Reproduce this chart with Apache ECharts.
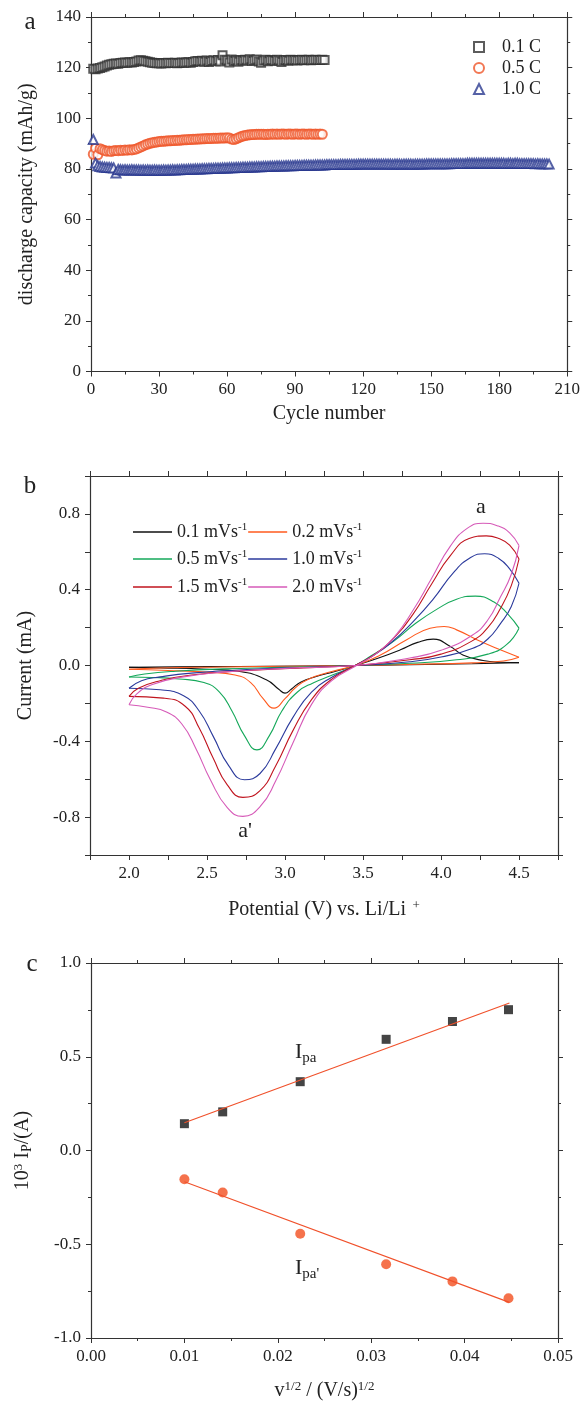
<!DOCTYPE html>
<html>
<head>
<meta charset="utf-8">
<script src="https://cdn.jsdelivr.net/npm/echarts@6/dist/echarts.min.js"></script>
<style>
  html, body { margin: 0; padding: 0; background: #fff; }
  #main { width: 583px; height: 1402px; }
</style>
</head>
<body>
<div id="main"></div>
<script>
// ---- panel a: discharge capacity per cycle (mAh/g), index 0 = cycle 1
const capacity01C = [
  119.6,119.4,119.7,119.9,120.2,120.5,120.8,121.1,121.3,121.5,
  121.6,121.5,121.8,121.9,122.0,121.9,122.1,122.0,122.2,122.4,
  122.8,122.9,122.7,122.5,122.3,122.1,121.9,121.8,121.7,121.7,
  121.6,121.8,121.7,121.9,121.8,121.8,121.9,121.7,121.8,122.0,
  121.9,122.0,122.1,121.9,122.2,122.5,122.6,122.4,122.7,122.3,
  122.8,122.2,122.6,122.9,122.5,123.0,122.4,124.9,123.1,122.8,
  122.0,123.2,122.6,122.9,122.3,123.0,122.7,123.1,122.8,123.3,
  122.6,122.9,123.2,122.4,121.9,122.8,123.1,122.5,123.0,122.9,
  122.6,123.1,122.8,122.2,122.9,123.0,122.7,123.1,122.9,123.0,
  122.8,123.0,123.1,122.9,123.0,123.1,122.9,123.0,123.1,123.0,
  123.0,123.1,123.0
];
const capacity05C = [
  85.8,88.2,85.6,88.0,87.6,87.3,87.0,87.1,86.9,87.2,
  87.3,87.2,87.4,87.3,87.5,87.4,87.6,87.5,87.7,87.9,
  88.3,88.7,89.1,89.5,89.8,90.1,90.3,90.5,90.6,90.8,
  90.9,90.9,91.0,91.1,91.1,91.2,91.2,91.3,91.3,91.4,
  91.5,91.5,91.6,91.6,91.7,91.7,91.8,91.8,91.9,91.9,
  92.0,92.0,92.0,92.1,92.1,92.1,92.2,92.2,92.2,92.3,
  92.2,91.8,91.6,91.9,92.3,92.7,93.0,93.2,93.4,93.5,
  93.6,93.6,93.7,93.7,93.7,93.7,93.6,93.7,93.7,93.8,
  93.7,93.8,93.7,93.8,93.8,93.7,93.8,93.8,93.7,93.8,
  93.8,93.7,93.8,93.8,93.7,93.8,93.8,93.7,93.8,93.7,
  93.8,93.7
];
const capacity10C = [
  91.6,82.3,81.3,81.0,80.8,80.7,80.6,80.6,80.5,80.4,
  78.4,79.8,79.7,79.6,79.7,79.6,79.6,79.7,79.6,79.6,
  79.6,79.5,79.6,79.5,79.6,79.5,79.5,79.6,79.5,79.5,
  79.5,79.6,79.5,79.6,79.6,79.7,79.6,79.7,79.7,79.8,
  79.8,79.8,79.9,79.9,79.9,80.0,80.0,80.0,80.1,80.1,
  80.1,80.2,80.2,80.2,80.3,80.3,80.3,80.4,80.4,80.4,
  80.5,80.5,80.5,80.6,80.6,80.6,80.7,80.7,80.7,80.8,
  80.8,80.8,80.9,80.9,80.9,81.0,81.0,81.0,81.1,81.1,
  81.1,81.2,81.2,81.2,81.2,81.3,81.3,81.3,81.3,81.4,
  81.4,81.4,81.4,81.5,81.5,81.5,81.5,81.5,81.6,81.6,
  81.6,81.6,81.6,81.7,81.7,81.7,81.7,81.7,81.7,81.8,
  81.8,81.8,81.8,81.8,81.8,81.8,81.8,81.9,81.9,81.9,
  81.9,81.9,81.9,81.9,81.9,81.9,81.9,81.9,81.9,81.9,
  81.9,81.9,81.8,81.9,81.9,81.9,81.8,81.9,81.9,81.9,
  81.9,81.8,81.9,81.9,81.9,81.9,81.9,82.0,82.0,82.0,
  82.0,82.0,82.0,82.0,82.0,82.0,82.0,82.0,82.1,82.1,
  82.1,82.1,82.1,82.1,82.1,82.2,82.2,82.2,82.2,82.2,
  82.2,82.2,82.2,82.2,82.2,82.2,82.2,82.2,82.2,82.2,
  82.2,82.2,82.1,82.2,82.2,82.1,82.2,82.2,82.1,82.1,
  82.1,82.1,82.1,82.1,82.1,82.0,82.1,82.0,82.0,82.0,
  82.0,81.9
];

// ---- panel b: CV loops [potential V, current mA]; fwd = 2.0 -> 4.5, rev = 4.5 -> 2.0
const cv01Fwd = [[2.0,-0.010],[2.3,-0.007],[2.7,-0.005],[3.1,-0.003],[3.45,0.0],[3.8,0.004],[4.2,0.009],[4.5,0.015]];
const cv01Rev = [[4.5,0.015],[4.38,0.017],[4.27,0.026],[4.14,0.056],[4.06,0.100],[3.95,0.139],[3.85,0.122],[3.74,0.083],[3.6,0.040],[3.45,0.0],[3.32,-0.032],[3.2,-0.058],[3.1,-0.088],[3.04,-0.125],[3.0,-0.146],[2.96,-0.125],[2.88,-0.075],[2.71,-0.032],[2.5,-0.020],[2.2,-0.013],[2.0,-0.010]];
const cv02Fwd = [[2.0,-0.020],[2.2,-0.013],[2.6,-0.008],[3.0,-0.004],[3.45,0.0],[3.8,0.006],[4.2,0.014],[4.4,0.024],[4.5,0.044]];
const cv02Rev = [[4.5,0.044],[4.38,0.083],[4.23,0.136],[4.1,0.188],[4.02,0.206],[3.93,0.197],[3.78,0.136],[3.6,0.050],[3.45,0.0],[3.3,-0.032],[3.15,-0.072],[3.07,-0.115],[3.0,-0.175],[2.93,-0.225],[2.86,-0.175],[2.78,-0.090],[2.68,-0.050],[2.5,-0.035],[2.25,-0.026],[2.0,-0.020]];
const cv05Fwd = [[2.0,-0.061],[2.1,-0.045],[2.3,-0.030],[2.6,-0.018],[3.0,-0.010],[3.45,0.0],[3.8,0.012],[4.1,0.030],[4.3,0.060],[4.42,0.110],[4.5,0.197]];
const cv05Rev = [[4.5,0.197],[4.43,0.270],[4.34,0.335],[4.22,0.366],[4.1,0.350],[3.98,0.300],[3.84,0.224],[3.7,0.130],[3.55,0.050],[3.45,0.0],[3.3,-0.052],[3.18,-0.092],[3.08,-0.140],[2.98,-0.240],[2.9,-0.370],[2.82,-0.445],[2.74,-0.370],[2.66,-0.240],[2.58,-0.140],[2.48,-0.090],[2.32,-0.071],[2.15,-0.063],[2.0,-0.061]];
const cv10Fwd = [[2.0,-0.120],[2.08,-0.080],[2.2,-0.060],[2.4,-0.040],[2.8,-0.020],[3.2,-0.008],[3.45,0.0],[3.8,0.020],[4.0,0.045],[4.2,0.090],[4.3,0.140],[4.38,0.220],[4.45,0.310],[4.5,0.434]];
const cv10Rev = [[4.5,0.434],[4.44,0.510],[4.37,0.565],[4.28,0.590],[4.19,0.570],[4.08,0.490],[3.95,0.350],[3.82,0.230],[3.68,0.120],[3.56,0.050],[3.45,0.0],[3.3,-0.062],[3.17,-0.140],[3.05,-0.275],[2.94,-0.440],[2.84,-0.570],[2.74,-0.603],[2.64,-0.530],[2.54,-0.374],[2.45,-0.240],[2.35,-0.160],[2.2,-0.128],[2.0,-0.120]];
const cv15Fwd = [[2.0,-0.163],[2.06,-0.120],[2.2,-0.080],[2.4,-0.050],[2.8,-0.025],[3.2,-0.010],[3.45,0.0],[3.8,0.030],[4.0,0.060],[4.2,0.130],[4.3,0.200],[4.38,0.300],[4.45,0.420],[4.5,0.562]];
const cv15Rev = [[4.5,0.562],[4.44,0.635],[4.37,0.670],[4.29,0.684],[4.18,0.670],[4.06,0.580],[3.94,0.430],[3.82,0.270],[3.68,0.130],[3.56,0.050],[3.45,0.0],[3.3,-0.072],[3.17,-0.180],[3.05,-0.345],[2.94,-0.530],[2.84,-0.660],[2.73,-0.696],[2.63,-0.630],[2.54,-0.490],[2.45,-0.330],[2.36,-0.215],[2.22,-0.172],[2.0,-0.163]];
const cv20Fwd = [[2.0,-0.207],[2.05,-0.150],[2.15,-0.100],[2.35,-0.060],[2.6,-0.035],[3.0,-0.015],[3.45,0.0],[3.8,0.040],[4.0,0.080],[4.2,0.160],[4.3,0.240],[4.38,0.360],[4.45,0.480],[4.5,0.633]];
const cv20Rev = [[4.5,0.633],[4.44,0.700],[4.36,0.738],[4.27,0.751],[4.17,0.725],[4.06,0.630],[3.94,0.460],[3.82,0.290],[3.7,0.150],[3.58,0.060],[3.47,0.005],[3.3,-0.080],[3.17,-0.205],[3.05,-0.410],[2.94,-0.610],[2.84,-0.745],[2.73,-0.796],[2.63,-0.750],[2.52,-0.600],[2.43,-0.440],[2.34,-0.310],[2.24,-0.245],[2.12,-0.220],[2.0,-0.207]];

// ---- panel c: peak current vs sqrt(scan rate)
const sqrtScanRate = [0.0100, 0.0141, 0.0224, 0.0316, 0.0387, 0.0447];
const peakAnodic = [0.143, 0.206, 0.367, 0.593, 0.688, 0.751];
const peakCathodic = [-0.153, -0.224, -0.444, -0.607, -0.698, -0.788];
const fitAnodic = [[0.0100, 0.148], [0.0448, 0.787]];
const fitCathodic = [[0.0100, -0.167], [0.0448, -0.810]];

const serif = '"Liberation Serif", "Times New Roman", serif';
const ink = '#222';

const isStep = (v, s) => Math.abs(v / s - Math.round(v / s)) < 1e-6;

function valueAxis(gridIndex, position, min, max, interval, fmt, minor, extra) {
  return Object.assign({
    type: 'value', gridIndex, position, min, max, interval,
    axisLine: { show: true, onZero: false, lineStyle: { color: '#333', width: 1.2 } },
    axisTick: { show: true, length: 5, lineStyle: { color: '#333' } },
    minorTick: { show: !!minor, splitNumber: 2, length: 3, lineStyle: { color: '#333' } },
    splitLine: { show: false },
    minorSplitLine: { show: false },
    axisLabel: fmt
      ? { show: true, formatter: fmt, color: ink, fontFamily: serif, fontSize: 17, margin: 10 }
      : { show: false }
  }, extra || {});
}

const rich = {
  t: { fontFamily: serif, fontSize: 20, color: ink, lineHeight: 22 },
  sup: { fontFamily: serif, fontSize: 13, color: ink, lineHeight: 12, verticalAlign: 'top' },
  sub: { fontFamily: serif, fontSize: 14, color: ink, lineHeight: 14, verticalAlign: 'bottom' }
};
const nameStyle = { fontFamily: serif, fontSize: 20, color: ink, rich };

const cycles = arr => arr.map((v, i) => [i + 1, v]);

const cvColors = {
  '0.1 mVs-1': '#111111',
  '0.2 mVs-1': '#ff5a1e',
  '0.5 mVs-1': '#15a85a',
  '1.0 mVs-1': '#2b3a9c',
  '1.5 mVs-1': '#c0141e',
  '2.0 mVs-1': '#d65ab8'
};
const cvLoops = [
  ['0.1 mVs-1', cv01Fwd, cv01Rev], ['0.2 mVs-1', cv02Fwd, cv02Rev],
  ['0.5 mVs-1', cv05Fwd, cv05Rev], ['1.0 mVs-1', cv10Fwd, cv10Rev],
  ['1.5 mVs-1', cv15Fwd, cv15Rev], ['2.0 mVs-1', cv20Fwd, cv20Rev]
];
const cvSeries = [];
cvLoops.forEach(([name, fwd, rev]) => {
  [fwd, rev].forEach(d => cvSeries.push({
    name, type: 'line', xAxisIndex: 2, yAxisIndex: 2, data: d,
    symbol: 'none', showSymbol: false, smooth: 0.5,
    lineStyle: { width: 1.1, color: cvColors[name] }, itemStyle: { color: cvColors[name] },
    z: 3
  }));
});

const cvLegendText = {
  fontFamily: serif, fontSize: 18, color: ink,
  rich: {
    t: { fontFamily: serif, fontSize: 18, color: ink, lineHeight: 20 },
    sup: { fontFamily: serif, fontSize: 11, color: ink, lineHeight: 11, verticalAlign: 'top' }
  }
};
const cvLegendFmt = n => '{t|' + n.slice(0, -2) + '}{sup|' + n.slice(-2) + '}';
function cvLegend(names, top) {
  return {
    data: names.map(n => ({ name: n, icon: 'rect' })), left: 133, top, orient: 'horizontal', padding: 0,
    itemWidth: 39, itemHeight: 1.3, itemGap: 1,
    textStyle: cvLegendText, formatter: cvLegendFmt, selectedMode: false
  };
}

const chart = echarts.init(document.getElementById('main'), null, { renderer: 'canvas' });
chart.setOption({
  animation: false,
  backgroundColor: '#fff',
  grid: [
    { left: 91, top: 17, width: 478, height: 354.5 },
    { left: 90, top: 476, width: 468, height: 379 },
    { left: 91, top: 963, width: 467, height: 378 }
  ],
  xAxis: [
    valueAxis(0, 'bottom', 0, 210, 30, v => String(v), true,
      { name: 'Cycle number', nameLocation: 'middle', nameGap: 32, nameTextStyle: nameStyle }),
    valueAxis(0, 'top', 0, 210, 30, null, true),
    valueAxis(1, 'bottom', 1.75, 4.75, 0.25,
      v => (isStep(v, 0.5) && v > 1.9 && v < 4.6) ? v.toFixed(1) : '', false,
      { name: '{t|Potential (V) vs. Li/Li}{sup|  +}', nameLocation: 'middle', nameGap: 44, nameTextStyle: nameStyle }),
    valueAxis(1, 'top', 1.75, 4.75, 0.25, null, false),
    valueAxis(2, 'bottom', 0, 0.05, 0.01, v => v.toFixed(2), true,
      { name: '{t|v}{sup|1/2}{t| / (V/s)}{sup|1/2}', nameLocation: 'middle', nameGap: 42, nameTextStyle: nameStyle }),
    valueAxis(2, 'top', 0, 0.05, 0.01, null, true)
  ],
  yAxis: [
    valueAxis(0, 'left', 0, 140, 20, v => String(v), true,
      { name: 'discharge capacity (mAh/g)', nameLocation: 'middle', nameGap: 54, nameTextStyle: nameStyle }),
    valueAxis(0, 'right', 0, 140, 20, null, true),
    valueAxis(1, 'left', -1, 1, 0.2,
      v => (isStep(v, 0.4) && Math.abs(v) < 0.9) ? (Math.abs(v) < 1e-9 ? '0.0' : v.toFixed(1)) : '', false,
      { name: 'Current (mA)', nameLocation: 'middle', nameGap: 54, nameTextStyle: nameStyle }),
    valueAxis(1, 'right', -1, 1, 0.2, null, false),
    valueAxis(2, 'left', -1, 1, 0.5, v => (Math.abs(v) < 1e-9 ? '0.0' : v.toFixed(1)), true,
      { name: '{t|10}{sup|3}{t| I}{sub|P}{t|/(A)}', nameLocation: 'middle', nameGap: 57, nameTextStyle: nameStyle }),
    valueAxis(2, 'right', -1, 1, 0.5, null, true)
  ],
  legend: [
    {
      data: ['0.1 C', '0.5 C', '1.0 C'], orient: 'vertical', left: 473, top: 38, padding: 0,
      itemWidth: 10, itemHeight: 10, itemGap: 3, selectedMode: false,
      formatter: n => '{g|}{t|' + n + '}',
      textStyle: {
        fontFamily: serif, fontSize: 18, color: ink,
        rich: { g: { width: 13 }, t: { fontFamily: serif, fontSize: 18, color: ink, lineHeight: 20 } }
      }
    },
    cvLegend(['0.1 mVs-1', '0.2 mVs-1'], 522),
    cvLegend(['0.5 mVs-1', '1.0 mVs-1'], 549),
    cvLegend(['1.5 mVs-1', '2.0 mVs-1'], 577)
  ],
  series: [
    { name: '0.1 C', type: 'scatter', xAxisIndex: 0, yAxisIndex: 0, data: cycles(capacity01C),
      symbol: 'emptyRect', symbolSize: 8, itemStyle: { color: '#333', borderWidth: 1 } },
    { name: '0.5 C', type: 'scatter', xAxisIndex: 0, yAxisIndex: 0, data: cycles(capacity05C),
      symbol: 'emptyCircle', symbolSize: 9, itemStyle: { color: '#ef5528', borderWidth: 1 } },
    { name: '1.0 C', type: 'scatter', xAxisIndex: 0, yAxisIndex: 0, data: cycles(capacity10C),
      symbol: 'emptyTriangle', symbolSize: 9, itemStyle: { color: '#2b3990', borderWidth: 1 } },
    ...cvSeries,
    { name: 'Ipa fit', type: 'line', xAxisIndex: 4, yAxisIndex: 4, data: fitAnodic,
      symbol: 'none', lineStyle: { color: '#f0502a', width: 1.1 }, z: 3 },
    { name: 'Ipa\' fit', type: 'line', xAxisIndex: 4, yAxisIndex: 4, data: fitCathodic,
      symbol: 'none', lineStyle: { color: '#f0502a', width: 1.1 }, z: 3 },
    { name: 'Ipa', type: 'scatter', xAxisIndex: 4, yAxisIndex: 4,
      data: sqrtScanRate.map((x, i) => [x, peakAnodic[i]]),
      symbol: 'rect', symbolSize: 9, itemStyle: { color: '#151515' }, z: 2 },
    { name: 'Ipa\'', type: 'scatter', xAxisIndex: 4, yAxisIndex: 4,
      data: sqrtScanRate.map((x, i) => [x, peakCathodic[i]]),
      symbol: 'circle', symbolSize: 10, itemStyle: { color: '#f24f1f' }, z: 2 }
  ],
  graphic: [
    { type: 'text', x: 30, y: 22, style: { text: 'a', font: '25px ' + serif, fill: ink, align: 'center', verticalAlign: 'middle' } },
    { type: 'text', x: 30, y: 486, style: { text: 'b', font: '25px ' + serif, fill: ink, align: 'center', verticalAlign: 'middle' } },
    { type: 'text', x: 32, y: 964, style: { text: 'c', font: '25px ' + serif, fill: ink, align: 'center', verticalAlign: 'middle' } },
    { type: 'text', x: 481, y: 507, style: { text: 'a', font: '22px ' + serif, fill: ink, align: 'center', verticalAlign: 'middle' } },
    { type: 'text', x: 245, y: 831, style: { text: "a'", font: '22px ' + serif, fill: ink, align: 'center', verticalAlign: 'middle' } },
    { type: 'text', x: 295, y: 1052, style: {
      text: '{i|I}{s|pa}', align: 'left', verticalAlign: 'middle',
      rich: { i: { fontFamily: serif, fontSize: 22, fill: ink, lineHeight: 28 },
              s: { fontFamily: serif, fontSize: 15, fill: ink, lineHeight: 14, verticalAlign: 'bottom' } } } },
    { type: 'text', x: 295, y: 1268, style: {
      text: "{i|I}{s|pa'}", align: 'left', verticalAlign: 'middle',
      rich: { i: { fontFamily: serif, fontSize: 22, fill: ink, lineHeight: 28 },
              s: { fontFamily: serif, fontSize: 15, fill: ink, lineHeight: 14, verticalAlign: 'bottom' } } } }
  ]
});
</script>
</body>
</html>
